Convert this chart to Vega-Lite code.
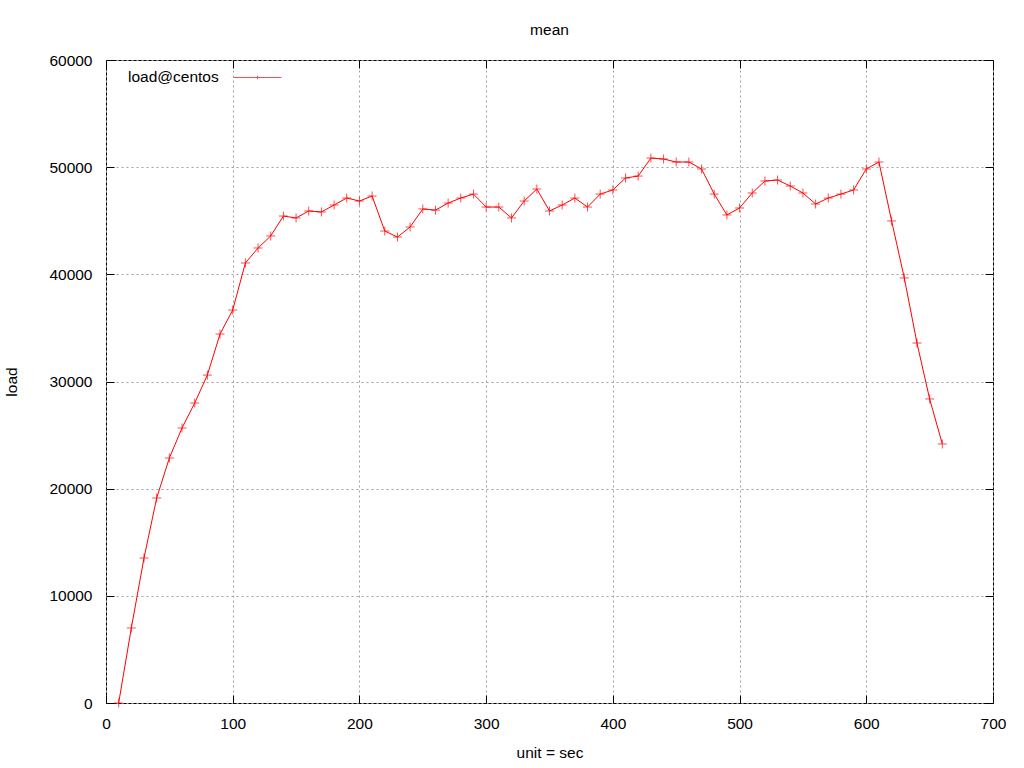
{
  "$schema": "https://vega.github.io/schema/vega-lite/v6.json",
  "width": 887,
  "height": 643,
  "autosize": {"type": "none"},
  "padding": {"left": 106, "top": 60, "right": 31, "bottom": 65},
  "background": "white",
  "title": {"text": "mean", "font": "Liberation Sans", "fontSize": 15.5, "fontWeight": "normal", "color": "black", "offset": 15},
  "config": {
    "view": {"stroke": "black", "strokeWidth": 1},
    "axis": {
      "labelFont": "Liberation Sans",
      "labelFontSize": 15.5,
      "labelColor": "black",
      "labelFlush": false,
      "labelOverlap": false,
      "titleFont": "Liberation Sans",
      "titleFontSize": 15.5,
      "titleFontWeight": "normal",
      "titleColor": "black",
      "domainColor": "black",
      "tickColor": "black",
      "tickSize": -8,
      "gridColor": "#a0a0a0",
      "gridDash": [2, 3],
      "gridWidth": 1
    }
  },
  "data": {"values": [
    {"sec": 10, "load": 0, "series": "load@centos"},
    {"sec": 20, "load": 7000, "series": "load@centos"},
    {"sec": 30, "load": 13530, "series": "load@centos"},
    {"sec": 40, "load": 19130, "series": "load@centos"},
    {"sec": 50, "load": 22860, "series": "load@centos"},
    {"sec": 60, "load": 25660, "series": "load@centos"},
    {"sec": 70, "load": 27990, "series": "load@centos"},
    {"sec": 80, "load": 30600, "series": "load@centos"},
    {"sec": 90, "load": 34430, "series": "load@centos"},
    {"sec": 100, "load": 36670, "series": "load@centos"},
    {"sec": 110, "load": 41060, "series": "load@centos"},
    {"sec": 120, "load": 42460, "series": "load@centos"},
    {"sec": 130, "load": 43580, "series": "load@centos"},
    {"sec": 140, "load": 45440, "series": "load@centos"},
    {"sec": 150, "load": 45260, "series": "load@centos"},
    {"sec": 160, "load": 45910, "series": "load@centos"},
    {"sec": 170, "load": 45820, "series": "load@centos"},
    {"sec": 180, "load": 46470, "series": "load@centos"},
    {"sec": 190, "load": 47120, "series": "load@centos"},
    {"sec": 200, "load": 46840, "series": "load@centos"},
    {"sec": 210, "load": 47310, "series": "load@centos"},
    {"sec": 220, "load": 44040, "series": "load@centos"},
    {"sec": 230, "load": 43480, "series": "load@centos"},
    {"sec": 240, "load": 44420, "series": "load@centos"},
    {"sec": 250, "load": 46100, "series": "load@centos"},
    {"sec": 260, "load": 45990, "series": "load@centos"},
    {"sec": 270, "load": 46650, "series": "load@centos"},
    {"sec": 280, "load": 47120, "series": "load@centos"},
    {"sec": 290, "load": 47490, "series": "load@centos"},
    {"sec": 300, "load": 46280, "series": "load@centos"},
    {"sec": 310, "load": 46280, "series": "load@centos"},
    {"sec": 320, "load": 45260, "series": "load@centos"},
    {"sec": 330, "load": 46840, "series": "load@centos"},
    {"sec": 340, "load": 47960, "series": "load@centos"},
    {"sec": 350, "load": 45910, "series": "load@centos"},
    {"sec": 360, "load": 46470, "series": "load@centos"},
    {"sec": 370, "load": 47120, "series": "load@centos"},
    {"sec": 380, "load": 46280, "series": "load@centos"},
    {"sec": 390, "load": 47490, "series": "load@centos"},
    {"sec": 400, "load": 47870, "series": "load@centos"},
    {"sec": 410, "load": 48990, "series": "load@centos"},
    {"sec": 420, "load": 49170, "series": "load@centos"},
    {"sec": 430, "load": 50850, "series": "load@centos"},
    {"sec": 440, "load": 50760, "series": "load@centos"},
    {"sec": 450, "load": 50480, "series": "load@centos"},
    {"sec": 460, "load": 50480, "series": "load@centos"},
    {"sec": 470, "load": 49830, "series": "load@centos"},
    {"sec": 480, "load": 47490, "series": "load@centos"},
    {"sec": 490, "load": 45540, "series": "load@centos"},
    {"sec": 500, "load": 46190, "series": "load@centos"},
    {"sec": 510, "load": 47590, "series": "load@centos"},
    {"sec": 520, "load": 48710, "series": "load@centos"},
    {"sec": 530, "load": 48800, "series": "load@centos"},
    {"sec": 540, "load": 48240, "series": "load@centos"},
    {"sec": 550, "load": 47590, "series": "load@centos"},
    {"sec": 560, "load": 46560, "series": "load@centos"},
    {"sec": 570, "load": 47120, "series": "load@centos"},
    {"sec": 580, "load": 47490, "series": "load@centos"},
    {"sec": 590, "load": 47870, "series": "load@centos"},
    {"sec": 600, "load": 49830, "series": "load@centos"},
    {"sec": 610, "load": 50480, "series": "load@centos"},
    {"sec": 620, "load": 44980, "series": "load@centos"},
    {"sec": 630, "load": 39660, "series": "load@centos"},
    {"sec": 640, "load": 33590, "series": "load@centos"},
    {"sec": 650, "load": 28370, "series": "load@centos"},
    {"sec": 660, "load": 24170, "series": "load@centos"}
  ]},
  "resolve": {"axis": {"x": "independent", "y": "independent"}},
  "layer": [
    {
      "mark": {"type": "line", "strokeWidth": 1, "color": "#ff0000"},
      "encoding": {
        "x": {"field": "sec", "type": "quantitative", "scale": {"domain": [0, 700], "nice": false},
              "axis": {"title": "unit = sec", "values": [0,100,200,300,400,500,600,700], "format": "d", "labelPadding": 21, "titlePadding": 14, "domain": false}},
        "y": {"field": "load", "type": "quantitative", "scale": {"domain": [0, 60000], "nice": false},
              "axis": {"title": "load", "values": [0,10000,20000,30000,40000,50000,60000], "format": "d", "labelPadding": 22, "titlePadding": 29, "domain": false}}
      }
    },
    {
      "mark": {"type": "point", "shape": "M-1,0H1M0,-1V1", "size": 81, "filled": false, "strokeWidth": 1},
      "encoding": {
        "x": {"field": "sec", "type": "quantitative",
              "axis": {"orient": "top", "title": null, "labels": false, "grid": false, "domain": false, "values": [0,100,200,300,400,500,600,700]}},
        "y": {"field": "load", "type": "quantitative",
              "axis": {"orient": "right", "title": null, "labels": false, "grid": false, "domain": false, "values": [0,10000,20000,30000,40000,50000,60000]}},
        "color": {"field": "series", "type": "nominal", "scale": {"range": ["#ff0000"]},
                  "legend": {"orient": "none", "legendX": 22, "legendY": 12, "title": "load@centos", "titleOrient": "left",
                             "titleAnchor": "middle", "titleBaseline": "middle",
                             "titleFont": "Liberation Sans", "titleFontSize": 15.5, "titleFontWeight": "normal", "titleColor": "black",
                             "titlePadding": 33, "labelExpr": "''", "symbolType": "M-4.8,0H4.8M0,-0.35V0.35", "symbolSize": 100, "symbolStrokeWidth": 1, "symbolStrokeColor": "#ff0000"}}
      }
    }
  ]
}
